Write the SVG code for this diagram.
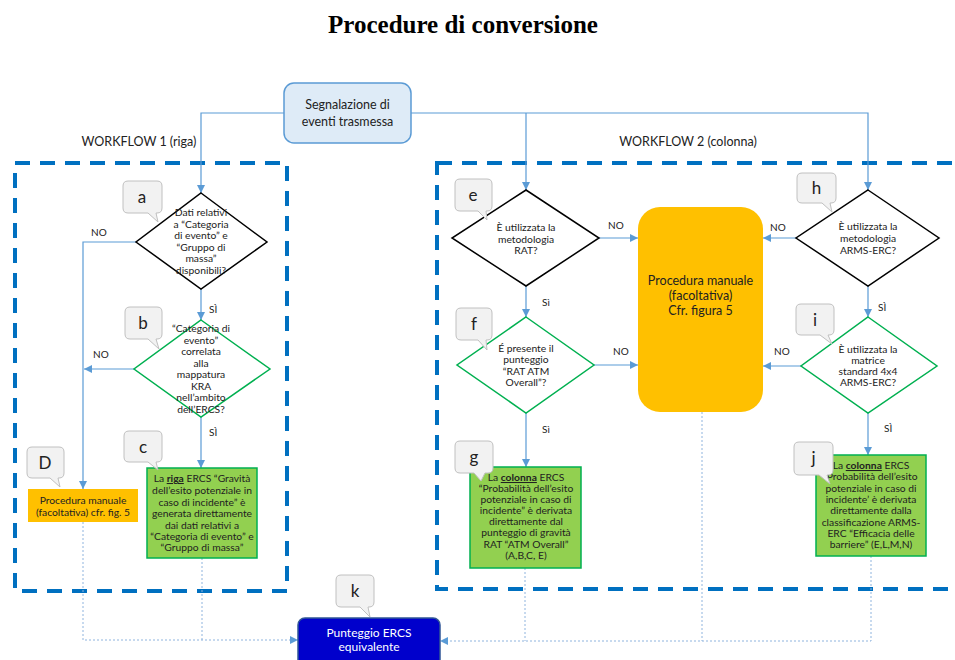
<svg xmlns="http://www.w3.org/2000/svg" width="955" height="660" viewBox="0 0 955 660">
<defs>
<marker id="arr" markerUnits="userSpaceOnUse" markerWidth="9" markerHeight="8" refX="8" refY="4" orient="auto">
<path d="M0,0 L8,4 L0,8 z" fill="#5B9BD5"/>
</marker>
<style>
text{font-family:Lato,"Liberation Sans",sans-serif;fill:#222;}
.t{font-size:10.3px;text-anchor:middle;}
.lbl{font-size:10px;}
.wf{font-size:12.5px;text-anchor:middle;}
.call{fill:#F2F2F2;stroke:#C0C0C0;stroke-width:1;}
.cl{font-size:17px;text-anchor:middle;}
.dk{fill:#fff;stroke:#000;stroke-width:1.5;}
.dg{fill:#fff;stroke:#00B050;stroke-width:1.5;}
.gb{fill:#92D050;stroke:#00B050;stroke-width:1.5;}
.con{fill:none;stroke:#5B9BD5;stroke-width:1.2;}
.dot{fill:none;stroke:#8FB4DE;stroke-width:1;stroke-dasharray:2 2;}
.wfbox{fill:none;stroke:#0070C0;stroke-width:4;stroke-dasharray:15 10;}
</style>
</defs>
<rect width="955" height="660" fill="#fff"/>
<text x="463" y="33" style="font-family:'Liberation Serif',serif;font-weight:bold;font-size:25px;text-anchor:middle;fill:#000">Procedure di conversione</text>

<g id="workflow-boxes">
<rect class="wfbox" x="15" y="163" width="272" height="428"/>
<rect class="wfbox" x="437" y="163" width="530" height="426"/>
<text class="wf" x="139" y="146">WORKFLOW 1 (riga)</text>
<text class="wf" x="688" y="146">WORKFLOW 2 (colonna)</text>
</g>

<g id="connectors">
<polyline class="con" points="284,113 201,113 201,193" marker-end="url(#arr)"/>
<polyline class="con" points="411,113 868,113 868,190" marker-end="url(#arr)"/>
<polyline class="con" points="526,113 526,190" marker-end="url(#arr)"/>
<polyline class="con" points="136,242 83,242 83,489" marker-end="url(#arr)"/>
<polyline class="con" points="201,289 201,320" marker-end="url(#arr)"/>
<polyline class="con" points="134,369 84,369" marker-end="url(#arr)"/>
<polyline class="con" points="201,417 201,468" marker-end="url(#arr)"/>
<polyline class="con" points="599,238 638,238" marker-end="url(#arr)"/>
<polyline class="con" points="526,286 526,317" marker-end="url(#arr)"/>
<polyline class="con" points="594,365 638,365" marker-end="url(#arr)"/>
<polyline class="con" points="526,413 526,467" marker-end="url(#arr)"/>
<polyline class="con" points="796,238 763,238" marker-end="url(#arr)"/>
<polyline class="con" points="868,286 868,317" marker-end="url(#arr)"/>
<polyline class="con" points="801,366 763,366" marker-end="url(#arr)"/>
<polyline class="con" points="868,413 868,455" marker-end="url(#arr)"/>
<polyline class="dot" points="83,522 83,640 298,640" marker-end="url(#arr)"/>
<polyline class="dot" points="202,558 202,640"/>
<polyline class="dot" points="871,556 871,641 440,641" marker-end="url(#arr)"/>
<polyline class="dot" points="525,568 525,641"/>
<polyline class="dot" points="702,412 702,641"/>
<text class="lbl" x="91" y="236">NO</text>
<text class="lbl" x="93" y="358">NO</text>
<text class="lbl" x="209" y="313">SÌ</text>
<text class="lbl" x="209" y="436">SÌ</text>
<text class="lbl" x="608" y="229">NO</text>
<text class="lbl" x="613" y="355">NO</text>
<text class="lbl" x="542" y="306">Sì</text>
<text class="lbl" x="542" y="433">Sì</text>
<text class="lbl" x="770" y="231">NO</text>
<text class="lbl" x="774" y="355">NO</text>
<text class="lbl" x="878" y="311">SÌ</text>
<text class="lbl" x="884" y="432">SÌ</text>
</g>

<g id="start">
<rect x="284" y="83" width="127" height="60" rx="10" fill="#DEEBF7" stroke="#5B9BD5" stroke-width="1.5"/>
<text x="347.5" y="109" style="font-size:12.5px;text-anchor:middle">Segnalazione di</text>
<text x="347.5" y="126" style="font-size:12.5px;text-anchor:middle">eventi trasmessa</text>
</g>

<g id="node-a">
<polygon class="dk" points="201,193 267,242 201,289 136,242"/>
<text class="t" x="201" y="216">Dati relativi</text>
<text class="t" x="201" y="228">a “Categoria</text>
<text class="t" x="201" y="239">di evento” e</text>
<text class="t" x="201" y="251">“Gruppo di</text>
<text class="t" x="201" y="262">massa”</text>
<text class="t" x="201" y="274">disponibili?</text>
<path class="call" d="M128,181 H157 Q162,181 162,186 V208 Q162,213 157,213 H156 L158,222 L148,213 H128 Q123,213 123,208 V186 Q123,181 128,181 Z"/>
<text class="cl" x="142" y="203">a</text>
</g>

<g id="node-b">
<polygon class="dg" points="201,320 270,369 201,417 134,369"/>
<text class="t" x="201" y="332">“Categoria di</text>
<text class="t" x="201" y="344">evento”</text>
<text class="t" x="201" y="355">correlata</text>
<text class="t" x="201" y="367">alla</text>
<text class="t" x="201" y="378">mappatura</text>
<text class="t" x="201" y="390">KRA</text>
<text class="t" x="201" y="401">nell’ambito</text>
<text class="t" x="201" y="413">dell’ERCS?</text>
<path class="call" d="M130,307 H157 Q162,307 162,312 V334 Q162,339 157,339 H156 L159,349 L148,339 H130 Q125,339 125,334 V312 Q125,307 130,307 Z"/>
<text class="cl" x="143" y="329">b</text>
</g>

<g id="node-c">
<rect class="gb" x="147" y="468" width="110" height="90"/>
<text class="t" x="202" y="482">La <tspan font-weight="bold" text-decoration="underline">riga</tspan> ERCS “Gravità</text>
<text class="t" x="202" y="494">dell’esito potenziale in</text>
<text class="t" x="202" y="506">caso di incidente” è</text>
<text class="t" x="202" y="517">generata direttamente</text>
<text class="t" x="202" y="529">dai dati relativi a</text>
<text class="t" x="202" y="540">“Categoria di evento” e</text>
<text class="t" x="202" y="551">“Gruppo di massa”</text>
<path class="call" d="M129,431 H157 Q162,431 162,436 V457 Q162,462 157,462 H156 L158,470 L148,462 H129 Q124,462 124,457 V436 Q124,431 129,431 Z"/>
<text class="cl" x="143" y="453">c</text>
</g>

<g id="node-D">
<rect x="28" y="489" width="110" height="33" fill="#FFC000"/>
<text class="t" x="83" y="504">Procedura manuale</text>
<text class="t" x="83" y="516">(facoltativa) cfr. fig. 5</text>
<path class="call" d="M32,447 H59 Q64,447 64,452 V473 Q64,478 59,478 H58 L60,487 L50,478 H32 Q27,478 27,473 V452 Q27,447 32,447 Z"/>
<text class="cl" x="45" y="469">D</text>
</g>

<g id="node-e">
<polygon class="dk" points="526,190 599,238 526,286 452,238"/>
<text class="t" x="526" y="231">È utilizzata la</text>
<text class="t" x="526" y="243">metodologia</text>
<text class="t" x="526" y="254">RAT?</text>
<path class="call" d="M460,179 H487 Q492,179 492,184 V206 Q492,211 487,211 H486 L487,220 L478,211 H460 Q455,211 455,206 V184 Q455,179 460,179 Z"/>
<text class="cl" x="473" y="201">e</text>
</g>

<g id="node-f">
<polygon class="dg" points="526,317 594,365 526,413 457,365"/>
<text class="t" x="526" y="352">É presente il</text>
<text class="t" x="526" y="363">punteggio</text>
<text class="t" x="526" y="375">“RAT ATM</text>
<text class="t" x="526" y="386">Overall”?</text>
<path class="call" d="M461,308 H487 Q492,308 492,313 V335 Q492,340 487,340 H486 L487,350 L478,340 H461 Q456,340 456,335 V313 Q456,308 461,308 Z"/>
<text class="cl" x="474" y="330">f</text>
</g>

<g id="node-g">
<rect class="gb" x="470" y="467" width="111" height="101"/>
<text class="t" x="526" y="481">La <tspan font-weight="bold" text-decoration="underline">colonna</tspan> ERCS</text>
<text class="t" x="526" y="492">“Probabilità dell’esito</text>
<text class="t" x="526" y="503">potenziale in caso di</text>
<text class="t" x="526" y="514">incidente” è derivata</text>
<text class="t" x="526" y="525">direttamente dal</text>
<text class="t" x="526" y="536">punteggio di gravità</text>
<text class="t" x="526" y="548">RAT “ATM Overall”</text>
<text class="t" x="526" y="559">(A,B,C, E)</text>
<path class="call" d="M460,441 H488 Q493,441 493,446 V468 Q493,473 488,473 H485 L481,481 L474,473 H460 Q455,473 455,468 V446 Q455,441 460,441 Z"/>
<text class="cl" x="474" y="463">g</text>
</g>

<g id="node-manual">
<rect x="638" y="207" width="125" height="205" rx="22" fill="#FFC000"/>
<text x="700.5" y="285" style="font-size:12.5px;text-anchor:middle">Procedura manuale</text>
<text x="700.5" y="300" style="font-size:12.5px;text-anchor:middle">(facoltativa)</text>
<text x="700.5" y="315" style="font-size:12.5px;text-anchor:middle">Cfr. figura 5</text>
</g>

<g id="node-h">
<polygon class="dk" points="868,190 939,238 868,286 796,238"/>
<text class="t" x="868" y="230">È utilizzata la</text>
<text class="t" x="868" y="242">metodologia</text>
<text class="t" x="868" y="254">ARMS-ERC?</text>
<path class="call" d="M802,173 H831 Q836,173 836,178 V198 Q836,203 831,203 H830 L832,212 L822,203 H802 Q797,203 797,198 V178 Q797,173 802,173 Z"/>
<text class="cl" x="816.5" y="194">h</text>
</g>

<g id="node-i">
<polygon class="dg" points="868,317 937,366 868,413 801,366"/>
<text class="t" x="868" y="353">È utilizzata la</text>
<text class="t" x="868" y="364">matrice</text>
<text class="t" x="868" y="375">standard 4x4</text>
<text class="t" x="868" y="386">ARMS-ERC?</text>
<path class="call" d="M801,304 H829 Q834,304 834,309 V330 Q834,335 829,335 H828 L832,344 L820,335 H801 Q796,335 796,330 V309 Q796,304 801,304 Z"/>
<text class="cl" x="815" y="326">i</text>
</g>

<g id="node-j">
<rect class="gb" x="816" y="455" width="110" height="101"/>
<text class="t" x="871" y="469">La <tspan font-weight="bold" text-decoration="underline">colonna</tspan> ERCS</text>
<text class="t" x="871" y="480">‘Probabilità dell’esito</text>
<text class="t" x="871" y="492">potenziale in caso di</text>
<text class="t" x="871" y="503">incidente’ è derivata</text>
<text class="t" x="871" y="514">direttamente dalla</text>
<text class="t" x="871" y="526">classificazione ARMS-</text>
<text class="t" x="871" y="537">ERC “Efficacia delle</text>
<text class="t" x="871" y="548">barriere” (E,L,M,N)</text>
<path class="call" d="M799,442 H828 Q833,442 833,447 V470 Q833,475 828,475 H827 L830,484 L819,475 H799 Q794,475 794,470 V447 Q794,442 799,442 Z"/>
<text class="cl" x="813.5" y="464">j</text>
</g>

<g id="node-k">
<rect x="298" y="618" width="142" height="50" rx="7" fill="#0000CC" stroke="#2F5597" stroke-width="1.5"/>
<text x="369" y="637" style="font-size:12px;text-anchor:middle;fill:#fff">Punteggio ERCS</text>
<text x="369" y="651" style="font-size:12px;text-anchor:middle;fill:#fff">equivalente</text>
<path class="call" d="M341,575 H369 Q374,575 374,580 V602 Q374,607 369,607 H368 L370,617 L360,607 H341 Q336,607 336,602 V580 Q336,575 341,575 Z"/>
<text class="cl" x="355" y="597">k</text>
</g>
</svg>
